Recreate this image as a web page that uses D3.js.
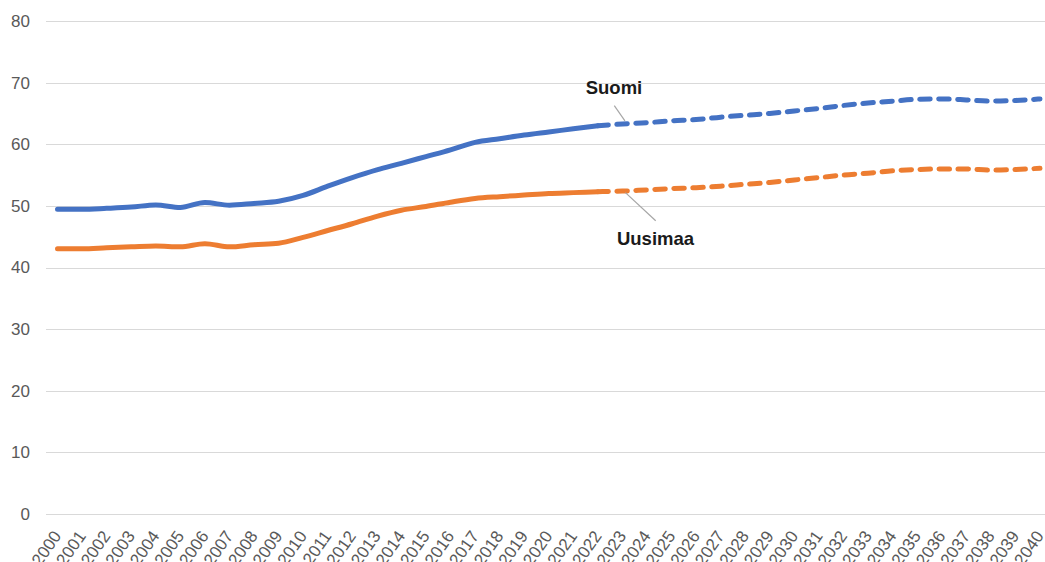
<!DOCTYPE html>
<html>
<head>
<meta charset="utf-8">
<script src="https://cdn.jsdelivr.net/npm/d3@7"></script>
<style>
  html, body { margin: 0; padding: 0; background: #fff; }
  svg { display: block; }
</style>
</head>
<body>
<svg id="chart" width="1045" height="562"></svg>
<script>
const years = d3.range(2000, 2041).map(String);
const yTicks = [0, 10, 20, 30, 40, 50, 60, 70, 80];

// Historical (solid) 2000–2022
const suomiHist = [49.45, 49.45, 49.6, 49.8, 50.15, 49.75, 50.55, 50.1, 50.4, 50.75, 51.7, 53.2, 54.6, 55.85, 56.9, 58.0, 59.1, 60.3, 60.9, 61.5, 62.0, 62.5, 63.0];
const uusimaaHist = [43.05, 43.05, 43.2, 43.35, 43.5, 43.35, 43.85, 43.35, 43.7, 43.95, 44.9, 46.0, 47.1, 48.3, 49.3, 49.9, 50.6, 51.2, 51.5, 51.75, 52.0, 52.15, 52.3];

// Projection (dashed) 2022–2040
const suomiProj = [63.0, 63.3, 63.5, 63.8, 64.0, 64.4, 64.7, 65.0, 65.4, 65.8, 66.3, 66.7, 67.0, 67.3, 67.35, 67.2, 67.0, 67.1, 67.35];
const uusimaaProj = [52.3, 52.4, 52.6, 52.8, 52.95, 53.2, 53.5, 53.8, 54.2, 54.6, 55.0, 55.3, 55.7, 55.9, 56.0, 56.0, 55.8, 55.9, 56.1];

const seriesNames = ["Suomi", "Uusimaa"];
const colors = ["#4472C4", "#ED7D31"];

const svg = d3.select("#chart");
const x = d3.scalePoint().domain(years).range([57.5, 1040]);
const y = d3.scaleLinear().domain([0, 80]).range([514, 21]);

// Gridlines
svg.append("g").selectAll("line").data(yTicks).join("line")
  .attr("x1", 46).attr("x2", 1045)
  .attr("y1", d => Math.round(y(d)) + 0.5).attr("y2", d => Math.round(y(d)) + 0.5)
  .attr("stroke", "#d9d9d9").attr("stroke-width", 1);

// Y axis labels
const yAxis = d3.axisLeft(y).tickValues(yTicks).tickSize(0).tickPadding(0);
const gy = svg.append("g").attr("transform", "translate(30,0)").call(yAxis);
gy.select(".domain").remove();
gy.selectAll("text")
  .attr("font-family", "'Liberation Sans', Arial, sans-serif")
  .attr("font-size", 17).attr("fill", "#595959");

// X axis labels
const xAxis = d3.axisBottom(x).tickSize(0).tickPadding(0);
const gx = svg.append("g").call(xAxis);
gx.select(".domain").remove();
gx.selectAll(".tick").attr("transform", d => `translate(${x(d) + 4.5},536)`);
gx.selectAll("text")
  .attr("y", 0).attr("dy", 0)
  .attr("text-anchor", "end")
  .attr("transform", "rotate(-55)")
  .attr("font-family", "'Liberation Sans', Arial, sans-serif")
  .attr("font-size", 17).attr("fill", "#595959");

const line = d3.line()
  .x(d => x(d[0])).y(d => y(d[1]))
  .curve(d3.curveMonotoneX);

const histYears = years.slice(0, suomiHist.length);
const projYears = years.slice(years.length - suomiProj.length);

const hist = [suomiHist, uusimaaHist];
const proj = [suomiProj, uusimaaProj];

hist.forEach((vals, i) => {
  svg.append("path")
    .datum(histYears.map((yr, j) => [yr, vals[j]]))
    .attr("d", line).attr("fill", "none")
    .attr("stroke", colors[i]).attr("stroke-width", 5)
    .attr("stroke-linecap", "round").attr("stroke-linejoin", "round");
});
proj.forEach((vals, i) => {
  svg.append("path")
    .datum(projYears.map((yr, j) => [yr, vals[j]]))
    .attr("d", line).attr("fill", "none")
    .attr("stroke", colors[i]).attr("stroke-width", 5)
    .attr("stroke-dasharray", "10.5,8.5")
    .attr("stroke-linecap", "round").attr("stroke-linejoin", "round");
});

// Leader lines and labels
const leaders = [
  { name: seriesNames[0], x1: 614.3, y1: 105.7, yr: "2023", v: suomiProj[1], dx: 2.5, dy: -3, tx: 614, ty: 94 },
  { name: seriesNames[1], x1: 655.7, y1: 220.7, yr: "2023", v: uusimaaProj[1], dx: 3, dy: 1.5, tx: 655.5, ty: 245 }
];
leaders.forEach(l => {
  svg.append("line")
    .attr("x1", l.x1).attr("y1", l.y1)
    .attr("x2", x(l.yr) + l.dx).attr("y2", y(l.v) + l.dy)
    .attr("stroke", "#a6a6a6").attr("stroke-width", 1.2);
  svg.append("text")
    .attr("x", l.tx).attr("y", l.ty)
    .attr("text-anchor", "middle")
    .attr("font-family", "'Liberation Sans', Arial, sans-serif")
    .attr("font-weight", "bold").attr("font-size", 18.5)
    .attr("fill", "#1a1a1a")
    .text(l.name);
});
</script>
</body>
</html>
